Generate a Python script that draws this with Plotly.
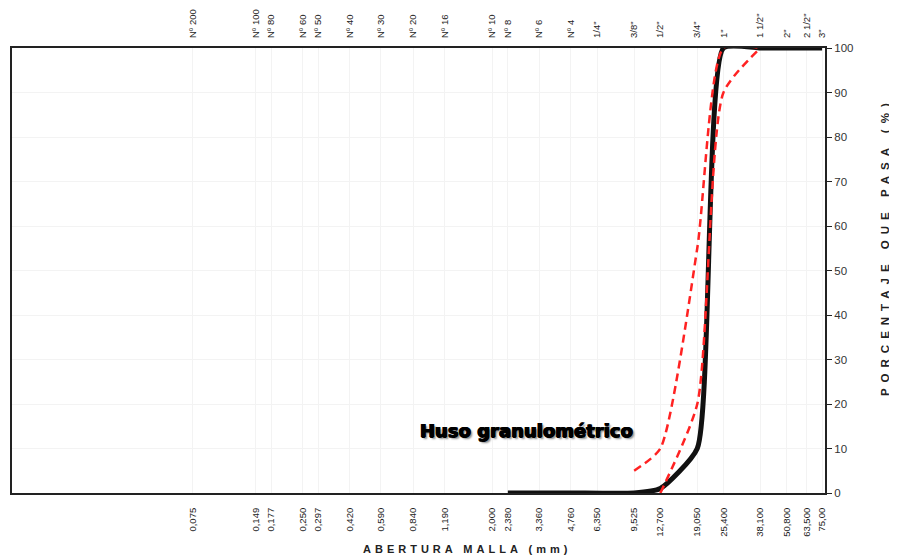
import math
import plotly.graph_objects as go

# Sieve openings (mm) and labels
sieve_mm = [0.075, 0.149, 0.177, 0.250, 0.297, 0.420, 0.590, 0.840, 1.190, 2.000, 2.380,
            3.360, 4.760, 6.350, 9.525, 12.700, 19.050, 25.400, 38.100, 50.800, 63.500, 75.00]
mm_labels = ["0,075", "0,149", "0,177", "0,250", "0,297", "0,420", "0,590", "0,840", "1,190",
             "2,000", "2,380", "3,360", "4,760", "6,350", "9,525", "12,700", "19,050",
             "25,400", "38,100", "50,800", "63,500", "75,00"]
sieve_names = ["Nº 200", "Nº 100", "Nº 80", "Nº 60", "Nº 50", "Nº 40", "Nº 30", "Nº 20",
               "Nº 16", "Nº 10", "Nº 8", "Nº 6", "Nº 4", "1/4\"", "3/8\"", "1/2\"", "3/4\"",
               "1\"", "1 1/2\"", "2\"", "2 1/2\"", "3\""]

# Sample gradation curve
sample_mm = [2.380, 4.760, 9.525, 12.700, 19.050, 25.400, 38.100, 50.800, 63.500, 75.00]
sample_pct = [0, 0, 0, 1, 10, 100, 100, 100, 100, 100]

# Gradation band (huso granulométrico)
upper_mm = [9.525, 12.700, 19.050, 25.400, 38.100]
upper_pct = [5, 10, 55, 100, 100]
lower_mm = [12.700, 19.050, 25.400, 38.100]
lower_pct = [0, 20, 90, 100]

y_ticks = list(range(0, 101, 10))

x_range = [-1.988, 1.889]

fig = go.Figure()
fig.add_trace(go.Scatter(x=sample_mm, y=sample_pct, mode="lines",
                         line=dict(color="#111111", width=5, shape="spline", smoothing=0.5),
                         showlegend=False))
fig.add_trace(go.Scatter(x=upper_mm, y=upper_pct, mode="lines",
                         line=dict(color="#ff2222", width=2.5, dash="8px,5px", shape="spline", smoothing=0.6),
                         showlegend=False))
fig.add_trace(go.Scatter(x=lower_mm, y=lower_pct, mode="lines",
                         line=dict(color="#ff2222", width=2.5, dash="8px,5px", shape="spline", smoothing=0.6),
                         showlegend=False))
# invisible trace on top axis
fig.add_trace(go.Scatter(x=sieve_mm, y=[None] * len(sieve_mm), xaxis="x2", mode="lines",
                         showlegend=False, hoverinfo="skip"))

tickfont = dict(family="Liberation Sans, Arial, sans-serif", size=9.5, color="#222222")

fig.update_layout(
    width=889, height=550,
    margin=dict(l=4, r=72, t=40, b=65, autoexpand=False),
    paper_bgcolor="white", plot_bgcolor="white",
    xaxis=dict(type="log", range=x_range, tickmode="array", tickvals=sieve_mm, ticktext=mm_labels,
               tickangle=-90, tickfont=tickfont, ticks="", ticklabelstandoff=9, automargin=False,
               showline=True, linecolor="#222222", linewidth=2, mirror=True,
               showgrid=True, gridcolor="#f3f3f3", zeroline=False),
    xaxis2=dict(type="log", range=x_range, overlaying="x", side="top", matches="x",
                tickmode="array", tickvals=sieve_mm, ticktext=sieve_names, automargin=False,
                tickangle=-90, tickfont=tickfont, ticks="", ticklabelstandoff=9,
                showline=False, showgrid=False, zeroline=False),
    yaxis=dict(range=[0, 100], side="right", tickmode="array", tickvals=y_ticks,
               ticks="outside", ticklen=5, tickcolor="#222222", automargin=False,
               tickfont=dict(family="Liberation Sans, Arial, sans-serif", size=11.5, color="#333333"),
               showline=True, linecolor="#222222", linewidth=2, mirror=True,
               showgrid=True, gridcolor="#f3f3f3", zeroline=False),
    annotations=[
        dict(text="<b>Huso granulométrico</b>", xref="paper", yref="paper",
             x=0.633, y=0.112, showarrow=False,
             font=dict(family="DejaVu Sans, Arial, sans-serif", size=18, color="#000000",
                       shadow="0.7px 0 0 #000, -0.7px 0 0 #000, 0 0.6px 0 #000, 2px 2px 2px #888888")),
        dict(text="<span style='letter-spacing:4px'><b>ABERTURA MALLA (mm)</b></span>",
             xref="paper", yref="paper", x=0.56, y=-0.126, yanchor="middle", showarrow=False,
             font=dict(family="Liberation Sans, Arial, sans-serif", size=11, color="#222222")),
        dict(text="<span style='letter-spacing:6px'><b>PORCENTAJE QUE PASA (%)</b></span>",
             xref="paper", yref="paper", x=1.074, y=0.553, xanchor="center", yanchor="middle",
             textangle=-90, showarrow=False,
             font=dict(family="Liberation Sans, Arial, sans-serif", size=11.5, color="#222222")),
    ],
)

fig.write_html("out.html")
